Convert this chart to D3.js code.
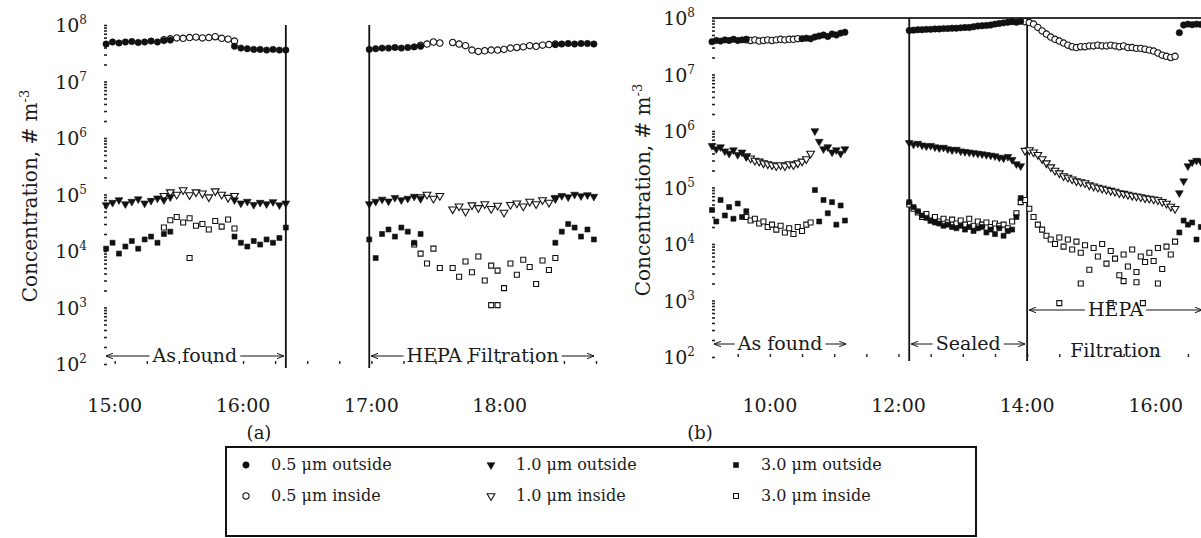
<!DOCTYPE html>
<html>
<head>
<meta charset="utf-8">
<script src="https://cdn.jsdelivr.net/npm/d3@7"></script>
<style>
  body { margin: 0; background: #fff; }
  svg { display: block; }
  svg text { font-family: "DejaVu Serif", "Liberation Serif", serif; fill: #1a1a1a; }
</style>
</head>
<body>
<svg width="1201" height="538" font-family="DejaVu Serif"></svg>
<script>
const parse = d3.timeParse('%H:%M')

// sampling interval, minutes
const stepA = 3
const stepB = 4

// panel (a): [start time, readings (# m-3) every stepA minutes]
const a05out = [
  ['14:56', [4.6e7, 5.0e7, 4.8e7, 5.0e7, 5.1e7, 4.9e7, 5.0e7, 5.2e7, 5.0e7, 5.3e7, 5.4e7]],
  ['15:56', [4.2e7, 3.9e7, 3.8e7, 3.7e7, 3.7e7, 3.6e7, 3.7e7, 3.6e7, 3.6e7]],
  ['16:59', [3.7e7, 3.8e7, 3.9e7, 3.9e7, 4.0e7, 3.9e7, 4.0e7, 4.1e7, 4.2e7]],
  ['18:26', [4.5e7, 4.6e7, 4.7e7, 4.6e7, 4.7e7, 4.7e7, 4.6e7]]
]
const a05in = [
  ['15:23', [5.5e7, 5.7e7, 5.9e7, 5.8e7, 6.0e7, 6.1e7, 5.9e7, 6.0e7, 6.2e7, 5.8e7, 5.6e7, 5.2e7]],
  ['17:23', [4.4e7, 4.6e7, 5.0e7, 4.8e7]],
  ['17:38', [4.9e7, 4.6e7, 4.3e7, 3.6e7, 3.4e7, 3.5e7, 3.6e7, 3.6e7, 3.7e7, 3.9e7, 4.0e7, 4.1e7, 4.3e7, 4.2e7, 4.4e7, 4.5e7, 4.6e7]]
]
const a10out = [
  ['14:56', [6.5e4, 7.2e4, 8.0e4, 6.8e4, 7.5e4, 8.3e4, 7.0e4, 7.8e4, 8.6e4, 8.0e4, 9.0e4]],
  ['15:56', [8.0e4, 7.0e4, 7.5e4, 6.6e4, 7.2e4, 6.8e4, 7.4e4, 6.5e4, 7.0e4]],
  ['16:59', [6.8e4, 7.5e4, 8.2e4, 7.6e4, 8.8e4, 8.0e4, 8.5e4, 9.2e4, 8.4e4]],
  ['18:26', [8.8e4, 9.5e4, 9.0e4, 1.0e5, 9.4e4, 9.8e4, 9.2e4]]
]
const a10in = [
  ['15:23', [9.5e4, 1.1e5, 1.0e5, 1.2e5, 9.8e4, 1.1e5, 1.05e5, 9.0e4, 1.15e5, 1.0e5, 8.8e4, 9.5e4]],
  ['17:23', [9.0e4, 1.0e5, 8.5e4, 9.5e4]],
  ['17:38', [5.5e4, 6.2e4, 5.0e4, 6.5e4, 5.8e4, 6.8e4, 5.6e4, 6.4e4, 4.8e4, 6.6e4, 7.0e4, 6.2e4, 7.5e4, 6.8e4, 8.0e4, 7.2e4, 8.5e4]]
]
const a30out = [
  ['14:56', [1.1e4, 1.4e4, 9.0e3, 1.2e4, 1.5e4, 1.1e4, 1.6e4, 1.8e4, 1.4e4, 2.0e4, 2.2e4]],
  ['15:56', [1.8e4, 1.4e4, 1.2e4, 1.5e4, 1.3e4, 1.6e4, 1.4e4, 1.7e4, 2.6e4]],
  ['16:59', [1.6e4, 7.5e3, 2.0e4, 2.4e4, 1.8e4, 2.6e4, 2.2e4, 1.4e4, 2.0e4]],
  ['18:26', [1.4e4, 2.2e4, 3.0e4, 2.6e4, 1.8e4, 2.4e4, 1.6e4]]
]
const a30in = [
  ['15:23', [2.6e4, 3.5e4, 4.0e4, 3.2e4, 3.8e4, 2.8e4, 3.0e4, 2.4e4, 3.4e4, 2.7e4, 3.6e4, 2.5e4]],
  ['15:35', [7.5e3]],
  ['17:20', [1.3e4, 9.0e3, 6.0e3, 1.1e4, 5.0e3]],
  ['17:38', [5.0e3, 3.5e3, 6.5e3, 4.2e3, 8.0e3, 3.0e3, 5.5e3, 4.5e3, 2.2e3, 6.0e3, 3.8e3, 7.0e3, 5.2e3, 2.6e3, 6.8e3, 4.6e3, 7.5e3]],
  ['17:56', [1.1e3, 1.1e3]]
]

// panel (b): readings every stepB minutes
const b05out = [
  ['09:06', [3.8e7, 4.0e7, 3.9e7, 4.1e7, 4.0e7, 4.2e7, 4.0e7, 4.1e7, 4.2e7]],
  ['10:30', [4.3e7, 4.4e7, 4.3e7, 4.6e7, 4.8e7, 5.0e7, 4.7e7, 5.2e7, 5.0e7, 5.4e7, 5.6e7]],
  ['12:10', [6.0e7, 6.1e7, 6.2e7, 6.2e7, 6.3e7, 6.3e7, 6.4e7, 6.4e7, 6.5e7, 6.5e7, 6.6e7, 6.6e7, 6.7e7, 6.8e7,
             6.8e7, 7.0e7, 7.2e7, 7.3e7, 7.4e7, 7.5e7, 7.8e7, 8.0e7, 8.2e7, 8.4e7, 8.6e7, 8.4e7, 8.7e7]],
  ['16:22', [5.5e7, 7.5e7, 7.8e7, 7.6e7, 7.8e7, 7.7e7]]
]
const b05in = [
  ['09:38', [4.1e7, 4.0e7, 4.1e7, 3.9e7, 4.0e7, 4.1e7, 4.0e7, 4.1e7, 4.2e7, 4.1e7, 4.2e7, 4.2e7, 4.3e7]],
  ['13:58', [8.6e7, 8.3e7, 7.8e7, 6.8e7, 5.9e7, 5.2e7, 4.6e7, 4.2e7, 3.9e7, 3.6e7, 3.3e7, 3.1e7, 3.0e7, 3.1e7,
             3.1e7, 3.2e7, 3.2e7, 3.3e7, 3.2e7, 3.2e7, 3.3e7, 3.2e7, 3.1e7, 3.2e7, 3.0e7, 3.0e7, 2.9e7, 2.9e7,
             2.8e7, 2.7e7, 2.6e7, 2.4e7, 2.2e7, 2.1e7, 2.0e7, 2.1e7]]
]
const b10out = [
  ['09:06', [5.5e5, 4.8e5, 5.2e5, 4.4e5, 4.0e5, 4.6e5, 3.8e5, 4.2e5, 3.5e5]],
  ['10:42', [1.0e6, 6.5e5, 4.8e5, 5.2e5, 4.2e5, 4.6e5, 4.0e5, 4.8e5]],
  ['12:10', [6.2e5, 5.8e5, 6.0e5, 5.6e5, 5.4e5, 5.5e5, 5.2e5, 5.0e5, 5.1e5, 4.8e5, 4.6e5, 4.7e5, 4.4e5, 4.3e5,
             4.2e5, 4.1e5, 4.0e5, 3.9e5, 3.8e5, 3.7e5, 3.6e5, 3.4e5, 3.3e5, 3.5e5, 3.1e5, 2.6e5, 2.4e5]],
  ['16:22', [8.0e4, 1.3e5, 2.4e5, 2.8e5, 3.0e5, 2.9e5]]
]
const b10in = [
  ['09:38', [3.6e5, 3.3e5, 3.0e5, 2.9e5, 2.7e5, 2.6e5, 2.5e5, 2.4e5, 2.5e5, 2.4e5, 2.6e5, 2.5e5, 2.7e5, 2.9e5, 3.2e5, 4.0e5]],
  ['13:58', [4.5e5, 4.6e5, 4.2e5, 3.8e5, 3.2e5, 2.7e5, 2.3e5, 2.0e5, 1.8e5, 1.6e5, 1.5e5, 1.4e5, 1.3e5, 1.25e5,
             1.2e5, 1.1e5, 1.05e5, 1.0e5, 9.6e4, 9.2e4, 8.8e4, 8.5e4, 8.0e4, 7.8e4, 7.5e4, 7.2e4, 7.0e4, 6.8e4,
             6.5e4, 6.4e4, 6.2e4, 6.0e4, 5.6e4, 5.2e4, 4.6e4, 4.2e4]]
]
const b30out = [
  ['09:06', [4.0e4, 2.5e4, 6.0e4, 3.2e4, 4.5e4, 2.8e4, 5.2e4, 3.0e4, 3.8e4]],
  ['10:42', [9.0e4, 2.5e4, 6.0e4, 3.5e4, 5.5e4, 2.2e4, 4.8e4, 2.6e4]],
  ['12:10', [5.5e4, 4.5e4, 3.8e4, 3.2e4, 2.9e4, 2.6e4, 2.4e4, 2.3e4, 2.1e4, 2.2e4, 2.0e4, 1.9e4, 2.1e4, 1.8e4,
             2.0e4, 1.7e4, 1.9e4, 2.0e4, 1.6e4, 1.8e4, 1.5e4, 1.9e4, 1.4e4, 1.7e4, 1.8e4, 3.0e4, 6.5e4]],
  ['16:22', [1.6e4, 2.6e4, 2.2e4, 2.4e4, 1.2e4, 2.0e4]]
]
const b30in = [
  ['09:38', [3.0e4, 2.6e4, 2.8e4, 2.3e4, 2.5e4, 2.0e4, 2.2e4, 1.8e4, 2.1e4, 1.6e4, 1.9e4, 1.5e4, 2.0e4, 1.7e4, 2.2e4, 2.4e4]],
  ['12:10', [5.0e4, 4.2e4, 3.6e4, 3.0e4, 3.4e4, 2.6e4, 3.0e4, 2.5e4, 2.8e4, 2.4e4, 2.7e4, 2.3e4, 2.6e4, 2.2e4,
             2.8e4, 2.1e4, 2.5e4, 2.2e4, 2.4e4, 2.0e4, 2.3e4, 2.1e4, 2.2e4, 1.9e4, 2.5e4, 3.5e4, 5.5e4]],
  ['13:58', [6.0e4, 4.2e4, 3.0e4, 2.2e4, 1.8e4, 1.4e4, 1.2e4, 1.0e4, 1.3e4, 9.0e3, 1.2e4, 8.0e3, 1.1e4, 7.0e3,
             9.5e3, 3.5e3, 8.5e3, 6.0e3, 1.0e4, 4.5e3, 7.5e3, 5.5e3, 2.8e3, 6.5e3, 4.0e3, 8.0e3, 3.2e3, 6.0e3,
             4.8e3, 7.0e3, 5.0e3, 8.5e3, 3.6e3, 9.0e3, 6.5e3, 1.1e4]],
  ['14:30', [9.0e2]], ['14:50', [2.0e3]], ['15:18', [9.0e2]], ['15:30', [2.2e3]],
  ['15:42', [2.1e3]], ['15:48', [9.0e2]], ['16:02', [2.0e3]]
]

const decades = [1e2, 1e3, 1e4, 1e5, 1e6, 1e7, 1e8]
const ticksA = ['15:00', '16:00', '17:00', '18:00']
const ticksB = ['10:00', '12:00', '14:00', '16:00']
const phasesA = ['16:20', '16:59']
const phasesB = ['12:10', '14:00']
const notesA = [['As found', '14:55', '16:20'], ['HEPA Filtration', '16:59', '18:45']]
const notesB = [['As found', '09:06', '11:13'], ['Sealed', '12:10', '14:00'], ['HEPA', '14:00', '16:45']]
const legendOut = ['0.5 μm outside', '1.0 μm outside', '3.0 μm outside']
const legendIn = ['0.5 μm inside', '1.0 μm inside', '3.0 μm inside']

const svg = d3.select('svg')

svg.append('defs').append('marker')
  .attr('id', 'arr')
  .attr('viewBox', '0 0 10 10')
  .attr('refX', 10).attr('refY', 5)
  .attr('markerWidth', 7).attr('markerHeight', 7)
  .attr('orient', 'auto')
  .append('path')
  .attr('d', 'M0,1L10,5L0,9')
  .attr('fill', 'none').attr('stroke', '#111').attr('stroke-width', 1.4)

const shapes = ['circle', 'tri', 'square']
const sym = {
  circle: d3.symbol(d3.symbolCircle, 32)(),
  tri: d3.symbol(d3.symbolTriangle, 26)(),
  square: d3.symbol(d3.symbolSquare, 25)()
}

const mark = (sel, shape, open) => sel
  .attr('d', sym[shape])
  .attr('fill', open ? '#fff' : '#111')
  .attr('stroke', '#111')
  .attr('stroke-width', open ? 1.1 : 0.6)

const points = (segs, step) => segs.flatMap(([start, vals]) =>
  vals.map((v, i) => ({ t: d3.timeMinute.offset(parse(start), i * step), v })))

function chart(c) {
  const x = d3.scaleTime().domain(c.xDomain.map(parse)).range(c.xRange)
  const y = d3.scaleLog().domain([1e2, 1e8]).range(c.yRange)
  const g = svg.append('g')
  const left = c.xRange[0]

  // log ticks, no axis line (as in the scan)
  g.append('g')
    .attr('transform', `translate(${left},0)`)
    .call(d3.axisRight(y).tickValues(y.ticks()).tickSize(3).tickFormat(''))
    .call(a => a.select('.domain').remove())
    .selectAll('line').attr('stroke', '#222').attr('stroke-width', 1.6)

  const lab = g.selectAll('.ylab').data(decades).join('text')
    .attr('x', left - 17)
    .attr('y', d => y(d) + 7)
    .attr('text-anchor', 'end')
    .style('font-size', '19px')
  lab.append('tspan').text('10')
  lab.append('tspan').attr('dy', -8).style('font-size', '12px').text(d => Math.round(Math.log10(d)))

  g.append('g')
    .attr('transform', `translate(0,${c.yRange[0]})`)
    .call(d3.axisTop(x).ticks(d3.timeMinute.every(c.minor)).tickSize(3).tickFormat(''))
    .call(a => a.select('.domain').remove())
    .selectAll('line').attr('stroke', '#222').attr('stroke-width', 1.4)

  g.selectAll('.xlab').data(c.ticks).join('text')
    .attr('x', d => x(parse(d)))
    .attr('y', 412)
    .attr('text-anchor', 'middle')
    .style('font-size', '19px')
    .text(d => d)

  if (c.topLine) {
    g.append('line')
      .attr('x1', left).attr('x2', c.xRange[1])
      .attr('y1', y(1e8)).attr('y2', y(1e8))
      .attr('stroke', '#333').attr('stroke-width', 2)
  }

  g.selectAll('.phase').data(c.phases).join('line')
    .attr('x1', d => x(parse(d))).attr('x2', d => x(parse(d)))
    .attr('y1', y(1e8)).attr('y2', y(1e2) + 4)
    .attr('stroke', '#111').attr('stroke-width', 1.8)

  c.series.forEach(([segs, shape, open]) => {
    g.append('g').selectAll('path').data(points(segs, c.step)).join('path')
      .call(mark, shape, open)
      .attr('transform', d => `translate(${x(d.t)},${y(d.v)})` + (shape === 'tri' ? ' rotate(180)' : ''))
  })

  c.notes.forEach(([label, from, to], i) => {
    const xa = x(parse(from)), xb = x(parse(to)), mid = (xa + xb) / 2
    const ny = c.noteY[i]
    const t = g.append('text')
      .attr('x', mid).attr('y', ny)
      .attr('text-anchor', 'middle')
      .style('font-size', '19px')
      .text(label)
    const w = t.node().getComputedTextLength()
    ;[[mid - w / 2 - 3, xa + 2], [mid + w / 2 + 3, xb - 2]].forEach(([x1, x2]) => {
      g.append('line')
        .attr('x1', x1).attr('x2', x2)
        .attr('y1', ny - 6).attr('y2', ny - 6)
        .attr('stroke', '#111').attr('stroke-width', 1)
        .attr('marker-end', 'url(#arr)')
    })
  })

  const title = g.append('text')
    .attr('transform', `translate(${c.titleX},${c.titleY}) rotate(-90)`)
    .attr('text-anchor', 'middle')
    .style('font-size', '20px')
  title.append('tspan').text('Concentration, # m')
  title.append('tspan').attr('dy', -8).style('font-size', '13px').text('-3')

  g.append('text')
    .attr('x', c.panelX).attr('y', 439)
    .attr('text-anchor', 'middle')
    .style('font-size', '18px')
    .text(c.panel)

  return { x, y, g }
}

chart({
  xDomain: ['14:55', '18:45'], xRange: [104, 596], yRange: [364, 25],
  step: stepA, minor: 15, ticks: ticksA, phases: phasesA,
  series: [[a05in, 'circle', true], [a10in, 'tri', true], [a30in, 'square', true],
           [a05out, 'circle', false], [a10out, 'tri', false], [a30out, 'square', false]],
  notes: notesA, noteY: [362, 362], titleX: 37, titleY: 196, panel: '(a)', panelX: 259
})

const b = chart({
  xDomain: ['09:06', '16:45'], xRange: [712, 1204], yRange: [357, 18],
  step: stepB, minor: 30, ticks: ticksB, phases: phasesB, topLine: true,
  series: [[b05in, 'circle', true], [b10in, 'tri', true], [b30in, 'square', true],
           [b05out, 'circle', false], [b10out, 'tri', false], [b30out, 'square', false]],
  notes: notesB, noteY: [350, 350, 316], titleX: 650, titleY: 190, panel: '(b)', panelX: 700
})

b.g.append('text')
  .attr('x', (b.x(parse('14:00')) + b.x(parse('16:45'))) / 2)
  .attr('y', 357)
  .attr('text-anchor', 'middle')
  .style('font-size', '19px')
  .text('Filtration')

// legend
const lg = svg.append('g')
lg.append('rect')
  .attr('x', 226).attr('y', 447).attr('width', 750).attr('height', 89)
  .attr('fill', 'none').attr('stroke', '#111').attr('stroke-width', 2)

const colX = d3.scalePoint().domain(shapes).range([246, 736])
const rowY = d3.scalePoint().domain(['out', 'in']).range([470, 501])

;[['out', legendOut], ['in', legendIn]].forEach(([row, labels]) => {
  shapes.forEach((shape, i) => {
    lg.append('path')
      .call(mark, shape, row === 'in')
      .attr('transform', `translate(${colX(shape)},${rowY(row) - 5})` + (shape === 'tri' ? ' rotate(180)' : ''))
    lg.append('text')
      .attr('x', colX(shape) + 25).attr('y', rowY(row))
      .style('font-size', '16px')
      .text(labels[i])
  })
})
</script>
</body>
</html>
